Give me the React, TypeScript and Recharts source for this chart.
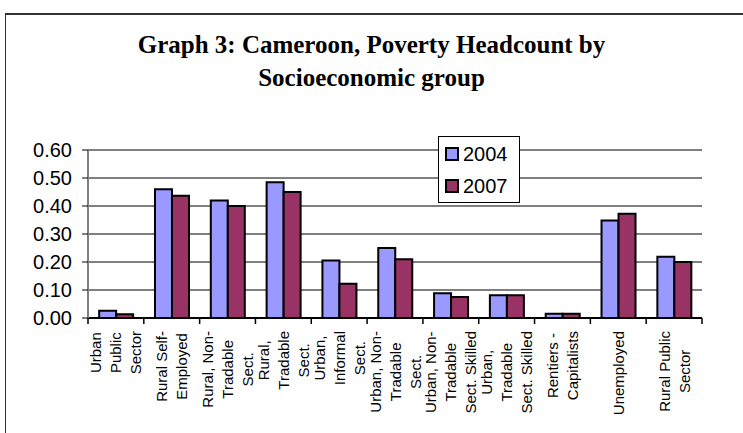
import { BarChart, Bar, XAxis, YAxis, CartesianGrid, ReferenceLine } from "recharts";

// --- data ---
const categories = [
  "Urban Public Sector",
  "Rural Self-Employed",
  "Rural, Non-Tradable Sect.",
  "Rural, Tradable Sect.",
  "Urban, Informal Sect.",
  "Urban, Non-Tradable Sect.",
  "Urban, Non-Tradable Sect. Skilled",
  "Urban, Tradable Sect. Skilled",
  "Rentiers - Capitalists",
  "Unemployed",
  "Rural Public Sector",
];

// wrapped label lines, as they appear under the axis
const tickLines = [
  ["Urban", "Public", "Sector"],
  ["Rural Self-", "Employed"],
  ["Rural, Non-", "Tradable", "Sect."],
  ["Rural,", "Tradable", "Sect."],
  ["Urban,", "Informal", "Sect."],
  ["Urban, Non-", "Tradable", "Sect."],
  ["Urban, Non-", "Tradable", "Sect. Skilled"],
  ["Urban,", "Tradable", "Sect. Skilled"],
  ["Rentiers -", "Capitalists"],
  ["Unemployed"],
  ["Rural Public", "Sector"],
];

const values2004 = [0.026, 0.46, 0.42, 0.485, 0.205, 0.25, 0.088, 0.081, 0.015, 0.348, 0.219];
const values2007 = [0.013, 0.437, 0.4, 0.45, 0.122, 0.21, 0.075, 0.081, 0.015, 0.372, 0.2];

const yTicks = [0, 0.1, 0.2, 0.3, 0.4, 0.5, 0.6];

const seri = [
  { key: "y2004", name: "2004", color: "#9999FF" },
  { key: "y2007", name: "2007", color: "#993366" },
];

const titleLines = ["Graph 3: Cameroon, Poverty Headcount by", "Socioeconomic group"];

const data = categories.map((c, i) => ({ kategori: c, y2004: values2004[i], y2007: values2007[i] }));

// --- layout ---
const W = 743;
const H = 433;
const PLOT_LEFT = 88;
const PLOT_RIGHT = 702;
const PLOT_TOP = 150;
const PLOT_BOTTOM = 318;
const SANS = "'Liberation Sans', Arial, sans-serif";
const LABEL_FONT = `15px ${SANS}`;

let ctx: CanvasRenderingContext2D | null = null;
function ukurTeks(t: string) {
  if (!ctx) ctx = document.createElement("canvas").getContext("2d");
  if (!ctx) return t.length * 8;
  ctx.font = LABEL_FONT;
  return ctx.measureText(t).width;
}

function KategoriTick(props: any) {
  const { x, y, payload } = props;
  const idx = categories.indexOf(payload.value);
  const lines = tickLines[idx] ?? [String(payload.value)];
  const half = payload.offset || (PLOT_RIGHT - PLOT_LEFT) / categories.length / 2;
  const longest = Math.max(...lines.map(ukurTeks));
  const mid = -(13 + longest / 2);
  return (
    <g>
      <line x1={x - half} x2={x - half} y1={y} y2={y + 6} stroke="#000" strokeWidth={1.5} />
      {idx === categories.length - 1 && (
        <line x1={x + half} x2={x + half} y1={y} y2={y + 6} stroke="#000" strokeWidth={1.5} />
      )}
      <g transform={`translate(${x},${y}) rotate(-90)`}>
        {lines.map((l, i) => (
          <text
            key={i}
            x={mid}
            y={(i - (lines.length - 1) / 2) * 20}
            textAnchor="middle"
            dominantBaseline="central"
            fontSize={15}
            fontFamily={SANS}
            fill="#000"
          >
            {l}
          </text>
        ))}
      </g>
    </g>
  );
}

export default function App() {
  return (
    <div style={{ position: "absolute", left: 0, top: 0, width: W, height: H, overflow: "hidden", background: "#fff" }}>
      {/* chart frame, cut off at right and bottom */}
      <div
        style={{
          position: "absolute",
          left: 5,
          top: 13,
          width: W + 20,
          height: H + 20,
          borderTop: "2px solid #333",
          borderLeft: "1px solid #333",
        }}
      />
      <div
        style={{
          position: "absolute",
          left: 0,
          top: 28,
          width: W,
          textAlign: "center",
          fontFamily: "'Liberation Serif', 'Times New Roman', serif",
          fontWeight: "bold",
          fontSize: 25,
          lineHeight: "33px",
          color: "#000",
        }}
      >
        {titleLines.map((t) => (
          <div key={t}>{t}</div>
        ))}
      </div>
      <div style={{ position: "absolute", left: 0, top: 0 }}>
        <BarChart
          width={W}
          height={H}
          data={data}
          margin={{ top: PLOT_TOP, right: W - PLOT_RIGHT, bottom: 0, left: 0 }}
          barCategoryGap="20%"
          barGap={0}
        >
          <CartesianGrid yAxisId="kiri" vertical={false} stroke="#000" strokeWidth={1} />
          <XAxis
            dataKey="kategori"
            interval={0}
            height={H - PLOT_BOTTOM}
            tickSize={0}
            tickMargin={0}
            tickLine={false}
            axisLine={{ stroke: "#000", strokeWidth: 2 }}
            tick={<KategoriTick />}
          />
          <YAxis
            yAxisId="kiri"
            width={PLOT_LEFT}
            domain={[0, 0.6]}
            ticks={yTicks}
            tickFormatter={(v: number) => v.toFixed(2)}
            tickSize={6}
            tickMargin={10}
            tickLine={{ stroke: "#000" }}
            axisLine={{ stroke: "#808080", strokeWidth: 2 }}
            tick={{ fontSize: 20, fill: "#000", fontFamily: SANS }}
          />
          <YAxis
            yAxisId="kanan"
            orientation="right"
            width={0}
            domain={[0, 0.6]}
            tick={false}
            tickLine={false}
            axisLine={{ stroke: "#808080", strokeWidth: 2 }}
          />
          <ReferenceLine yAxisId="kiri" y={0.6} stroke="#808080" strokeWidth={2} />
          {seri.map((s) => (
            <Bar
              key={s.key}
              yAxisId="kiri"
              dataKey={s.key}
              name={s.name}
              fill={s.color}
              stroke="#000"
              strokeWidth={2}
              isAnimationActive={false}
            />
          ))}
        </BarChart>
      </div>
      {/* legend box */}
      <div
        style={{
          position: "absolute",
          left: 438,
          top: 136,
          width: 82,
          height: 67,
          boxSizing: "border-box",
          border: "1px solid #000",
          background: "#fff",
          fontFamily: SANS,
          fontSize: 20,
          color: "#000",
        }}
      >
        {seri.map((s, i) => (
          <div
            key={s.key}
            style={{ position: "absolute", left: 6, top: 6 + i * 32, height: 22, display: "flex", alignItems: "center" }}
          >
            <span
              style={{
                display: "inline-block",
                width: 10,
                height: 10,
                background: s.color,
                border: "2px solid #000",
                marginRight: 4,
              }}
            />
            <span>{s.name}</span>
          </div>
        ))}
      </div>
    </div>
  );
}
